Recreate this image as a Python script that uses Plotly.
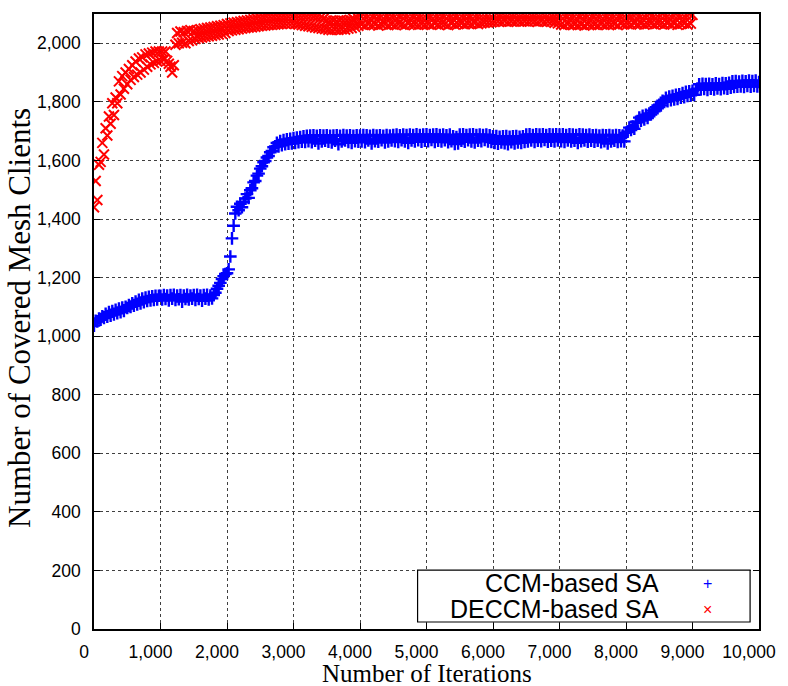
import plotly.graph_objects as go

# ---------------- data ----------------
ccm_x = list(range(0, 10001, 25))
ccm_y = [
    1036, 1052, 1050, 1060, 1056, 1068, 1062, 1076, 1066, 1082, 1070, 1086, 1074, 1090, 1078, 1094, 1082, 1098, 1086, 1100,
    1096, 1106, 1100, 1112, 1104, 1118, 1108, 1124, 1112, 1128, 1116, 1132, 1120, 1134, 1122, 1136, 1124, 1138, 1125, 1138,
    1138, 1125, 1140, 1127, 1139, 1122, 1140, 1128, 1141, 1124, 1139, 1126, 1140, 1118, 1139, 1127, 1141, 1125, 1139, 1128,
    1140, 1124, 1141, 1127, 1139, 1121, 1140, 1128, 1141, 1125, 1139, 1129, 1140, 1148, 1162, 1172, 1182, 1195, 1205, 1212,
    1215, 1228, 1272, 1334, 1377, 1419, 1442, 1430, 1452, 1440, 1458, 1470, 1485, 1472, 1498, 1505, 1525, 1530, 1548, 1555,
    1572, 1580, 1594, 1598, 1610, 1615, 1628, 1632, 1645, 1648, 1660, 1648, 1666, 1652, 1670, 1655, 1672, 1657, 1674, 1658,
    1676, 1660, 1678, 1662, 1680, 1664, 1682, 1663, 1684, 1666, 1685, 1662, 1686, 1667, 1684, 1658, 1686, 1665, 1685, 1667,
    1686, 1664, 1684, 1661, 1685, 1667, 1686, 1655, 1684, 1665, 1687, 1668, 1685, 1663, 1686, 1660, 1684, 1666, 1686, 1664,
    1685, 1665, 1687, 1662, 1686, 1668, 1684, 1658, 1687, 1666, 1685, 1664, 1686, 1669, 1684, 1661, 1687, 1665, 1685, 1668,
    1687, 1666, 1688, 1663, 1686, 1669, 1688, 1665, 1687, 1660, 1688, 1668, 1687, 1665, 1689, 1669, 1687, 1664, 1688, 1667,
    1689, 1666, 1687, 1670, 1688, 1663, 1689, 1667, 1687, 1665, 1688, 1669, 1686, 1662, 1688, 1666, 1682, 1656, 1680, 1658,
    1688, 1667, 1689, 1664, 1687, 1669, 1688, 1665, 1689, 1661, 1687, 1667, 1688, 1666, 1687, 1670, 1688, 1665, 1686, 1663,
    1682, 1660, 1683, 1657, 1681, 1661, 1682, 1659, 1683, 1655, 1681, 1662, 1682, 1658, 1683, 1661, 1681, 1660, 1682, 1663,
    1688, 1665, 1689, 1668, 1687, 1663, 1689, 1667, 1688, 1666, 1689, 1670, 1687, 1664, 1689, 1667, 1688, 1665, 1689, 1668,
    1688, 1666, 1689, 1663, 1687, 1668, 1689, 1665, 1688, 1667, 1687, 1660, 1689, 1666, 1688, 1668, 1687, 1664, 1688, 1667,
    1686, 1664, 1687, 1667, 1685, 1662, 1687, 1666, 1686, 1658, 1687, 1665, 1685, 1667, 1687, 1663, 1686, 1666, 1685, 1665,
    1694, 1698, 1712, 1704, 1716, 1708, 1732, 1730, 1746, 1736, 1752, 1740, 1756, 1745, 1760, 1757, 1770, 1768, 1782, 1778,
    1790, 1788, 1804, 1800, 1814, 1802, 1818, 1806, 1821, 1808, 1824, 1810, 1826, 1814, 1830, 1816, 1834, 1820, 1836, 1822,
    1838, 1824, 1842, 1845, 1860, 1842, 1862, 1844, 1861, 1841, 1862, 1845, 1860, 1842, 1863, 1846, 1861, 1843, 1864, 1847,
    1863, 1845, 1865, 1848, 1870, 1851, 1871, 1852, 1869, 1853, 1872, 1851, 1870, 1854, 1873, 1852, 1871, 1854, 1873, 1853,
    1868,
]

deccm_x = list(range(0, 9001, 25))
deccm_y = [
    1440, 1530, 1465, 1585, 1595, 1660, 1620, 1710, 1685, 1750, 1725, 1795, 1755, 1815, 1795, 1870, 1825, 1888, 1845, 1900,
    1860, 1912, 1875, 1925, 1885, 1938, 1893, 1948, 1900, 1952, 1910, 1962, 1920, 1965, 1928, 1968, 1933, 1972, 1938, 1972,
    1940, 1972, 1944, 1972, 1940, 1930, 1920, 1900, 1925, 1995, 2035, 2000, 2040, 2002, 2038, 2000, 2042, 2008, 2045, 2010,
    2042, 2015, 2045, 2018, 2048, 2020, 2050, 2022, 2052, 2024, 2054, 2026, 2056, 2028, 2058, 2030, 2060, 2032, 2062, 2035,
    2066, 2042, 2068, 2044, 2070, 2046, 2072, 2048, 2074, 2050, 2076, 2052, 2078, 2054, 2080, 2055, 2082, 2056, 2084, 2058,
    2086, 2060, 2088, 2061, 2090, 2062, 2091, 2063, 2092, 2064, 2093, 2065, 2094, 2066, 2095, 2067, 2096, 2068, 2097, 2068,
    2097, 2066, 2096, 2064, 2095, 2062, 2094, 2060, 2093, 2058, 2092, 2056, 2090, 2054, 2088, 2052, 2086, 2050, 2084, 2049,
    2078, 2046, 2076, 2045, 2077, 2047, 2075, 2046, 2078, 2048, 2077, 2047, 2078, 2050, 2080, 2052, 2084, 2056, 2090, 2060,
    2096, 2064, 2098, 2062, 2097, 2066, 2099, 2063, 2096, 2065, 2098, 2061, 2097, 2064, 2099, 2066, 2096, 2062, 2098, 2065,
    2097, 2063, 2099, 2066, 2096, 2064, 2098, 2062, 2097, 2067, 2099, 2064, 2096, 2065, 2098, 2063, 2097, 2066, 2099, 2064,
    2098, 2066, 2096, 2063, 2099, 2067, 2097, 2064, 2098, 2066, 2096, 2065, 2099, 2062, 2097, 2067, 2098, 2064, 2096, 2066,
    2099, 2068, 2097, 2065, 2098, 2067, 2096, 2066, 2099, 2069, 2097, 2066, 2098, 2068, 2099, 2070, 2098, 2071, 2099, 2072,
    2099, 2073, 2100, 2075, 2098, 2074, 2100, 2076, 2099, 2073, 2100, 2075, 2098, 2074, 2100, 2076, 2099, 2074, 2100, 2075,
    2099, 2074, 2100, 2076, 2098, 2075, 2100, 2073, 2099, 2076, 2100, 2074, 2099, 2075, 2100, 2073, 2098, 2070, 2097, 2068,
    2097, 2064, 2099, 2062, 2096, 2066, 2098, 2063, 2097, 2065, 2099, 2062, 2096, 2064, 2098, 2061, 2097, 2065, 2099, 2063,
    2096, 2064, 2098, 2062, 2097, 2066, 2099, 2063, 2096, 2065, 2098, 2064, 2097, 2066, 2099, 2062, 2096, 2067, 2098, 2065,
    2099, 2066, 2097, 2064, 2098, 2068, 2100, 2065, 2097, 2067, 2099, 2064, 2098, 2066, 2100, 2068, 2097, 2065, 2099, 2067,
    2098, 2066, 2100, 2064, 2097, 2068, 2099, 2065, 2098, 2067, 2100, 2063, 2097, 2066, 2099, 2068, 2098, 2064, 2100, 2067,
    2097,
]

series_names = ["CCM-based SA", "DECCM-based SA"]
series_colors = ["#0000ff", "#ff0000"]
x_ticks = list(range(0, 10001, 1000))
y_ticks = list(range(0, 2001, 200))

# ---------------- figure ----------------
fig = go.Figure()
fig.add_trace(go.Scatter(
    x=ccm_x, y=ccm_y, mode="markers", name=series_names[0],
    marker=dict(symbol="cross-thin", size=9, color=series_colors[0],
                line=dict(color=series_colors[0], width=2.4)),
    showlegend=False,
))
fig.add_trace(go.Scatter(
    x=deccm_x, y=deccm_y, mode="markers", name=series_names[1],
    marker=dict(symbol="x-thin", size=10, color=series_colors[1],
                line=dict(color=series_colors[1], width=2)),
    showlegend=False,
))

tickfont = dict(family="Liberation Sans, Arial, sans-serif", size=17.5, color="black")
grid = dict(showgrid=True, gridcolor="rgba(0,0,0,0.75)", gridwidth=1, griddash="dot",
            showline=True, linecolor="black", linewidth=1.5, mirror="allticks",
            ticks="inside", ticklen=6, tickwidth=1, tickcolor="black",
            zeroline=False, tickfont=tickfont, tickformat=",d")

fig.update_xaxes(range=[0, 10000], tickvals=x_ticks, ticklabelshift=-10,
                 ticklabelstandoff=6, **grid)
fig.update_yaxes(range=[0, 2100], tickvals=y_ticks, ticklabelstandoff=8, **grid)

serif = "Liberation Serif, Times New Roman, serif"
annotations = [
    dict(text="Number of Iterations", x=0.5, y=-0.073, xref="paper", yref="paper",
         xanchor="center", yanchor="middle", showarrow=False,
         font=dict(family=serif, size=25, color="black")),
    dict(text="Number of Covered Mesh Clients", x=-0.111, y=0.506, xref="paper", yref="paper",
         xanchor="center", yanchor="middle", textangle=-90, showarrow=False,
         font=dict(family=serif, size=31, color="black")),
]
leg_rows = [0.0747, 0.0325]
legfont = "Liberation Sans, Arial, sans-serif"
for name, color, yy, sym in zip(series_names, series_colors, leg_rows, ["+", "×"]):
    annotations.append(dict(text=name, x=0.853, y=yy, xref="paper", yref="paper",
                            xanchor="right", yanchor="middle", showarrow=False,
                            font=dict(family=legfont, size=25, color="black")))
    annotations.append(dict(text=sym, x=0.923, y=yy, xref="paper", yref="paper",
                            xanchor="center", yanchor="middle", showarrow=False,
                            font=dict(family=legfont, size=16, color=color)))

fig.update_layout(
    width=788, height=686,
    margin=dict(l=94, r=20, t=13, b=57),
    paper_bgcolor="white", plot_bgcolor="white",
    annotations=annotations,
    shapes=[dict(type="rect", xref="paper", yref="paper", x0=0.4866, x1=0.9866,
                 y0=0.0114, y1=0.0958, line=dict(color="black", width=1.2),
                 fillcolor="white", layer="above")],
)

fig.write_html("out.html")
